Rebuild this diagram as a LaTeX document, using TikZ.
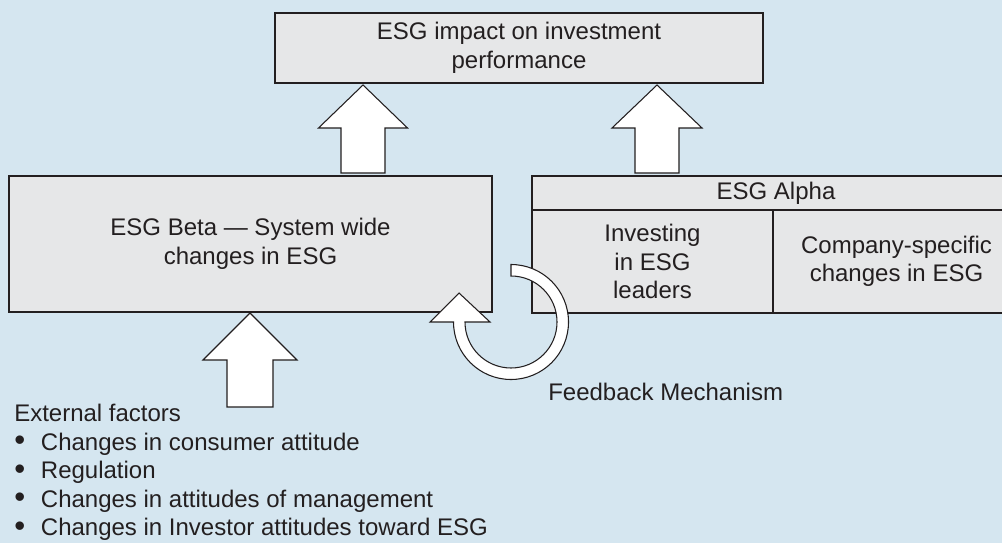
\documentclass[tikz,border=0pt]{standalone}
\usepackage{fontspec}
\setmainfont{Liberation Sans}
\usetikzlibrary{positioning}
\definecolor{bgblue}{RGB}{213,230,240}
\definecolor{boxgray}{RGB}{230,231,232}
\definecolor{inkcol}{RGB}{35,31,32}
\newcommand{\esgbullet}{\makebox[20pt][l]{\raisebox{-0.5pt}{\scalebox{1.3}{\textbullet}}}}

\begin{document}
\begin{tikzpicture}
      [x=0.75pt,y=0.75pt,line join=miter,
       font=\fontsize{18}{21.4}\selectfont,text=inkcol,
       esgbox/.style={draw=inkcol,fill=boxgray,line width=1.8pt,inner sep=0pt,outer sep=0pt,align=center},
       blockarrow/.style={draw=inkcol,fill=white,line width=0.8pt},
       plaintext/.style={inner sep=0pt,align=left}]

%background
  \fill[bgblue] (0,0) rectangle (1002,543);
  \useasboundingbox (0,0) rectangle (1002,543);

%boxes
  \node[esgbox,minimum width=366pt,minimum height=52.5pt] (impact) at (519,495)
    {ESG impact on investment\\performance};
  \node[esgbox,minimum width=362.25pt,minimum height=102pt] (beta) at (250.5,299)
    {ESG Beta — System wide\\changes in ESG};
  \node[esgbox,minimum width=366pt,minimum height=25.5pt] (alpha) at (776,350) {ESG Alpha};
  \node[esgbox,minimum width=180.75pt,minimum height=77.25pt,below right=0pt of alpha.south west] (leaders)
    {Investing\\in ESG\\leaders};
  \node[esgbox,minimum width=185.25pt,minimum height=77.25pt,right=0pt of leaders.east] (specific)
    {Company-specific\\changes in ESG};

%block arrows
  \coordinate (tipbeta) at (363,458);
  \coordinate (tipalpha) at (657,458);
  \coordinate (tipext) at (250,230);
  \draw[blockarrow] (tipbeta) -- ++(44.5,-43) -- ++(-22.5,0) -- ++(0,-45) -- ++(-44,0) -- ++(0,45) -- ++(-22.5,0) -- cycle;
  \draw[blockarrow] (tipalpha) -- ++(45,-43) -- ++(-23,0) -- ++(0,-45) -- ++(-44,0) -- ++(0,45) -- ++(-23,0) -- cycle;
  \draw[blockarrow] (tipext) -- ++(47,-47) -- ++(-24,0) -- ++(0,-47) -- ++(-46,0) -- ++(0,47) -- ++(-24,0) -- cycle;

%feedback loop
  \draw[blockarrow] (511,278.5) arc[start angle=90,end angle=-180,radius=57.5]
     -- (430,221) -- (459,250) -- (490,221) -- (465,221)
     arc[start angle=180,end angle=450,radius=46] -- cycle;
  \node[plaintext,anchor=west] (feedback) at (548,151) {Feedback Mechanism};

%external factors
  \node[plaintext,anchor=north west] (external) at (14,139)
    {External factors\\
     \esgbullet Changes in consumer attitude\\
     \esgbullet Regulation\\
     \esgbullet Changes in attitudes of management\\
     \esgbullet Changes in Investor attitudes toward ESG};
\end{tikzpicture}
\end{document}
